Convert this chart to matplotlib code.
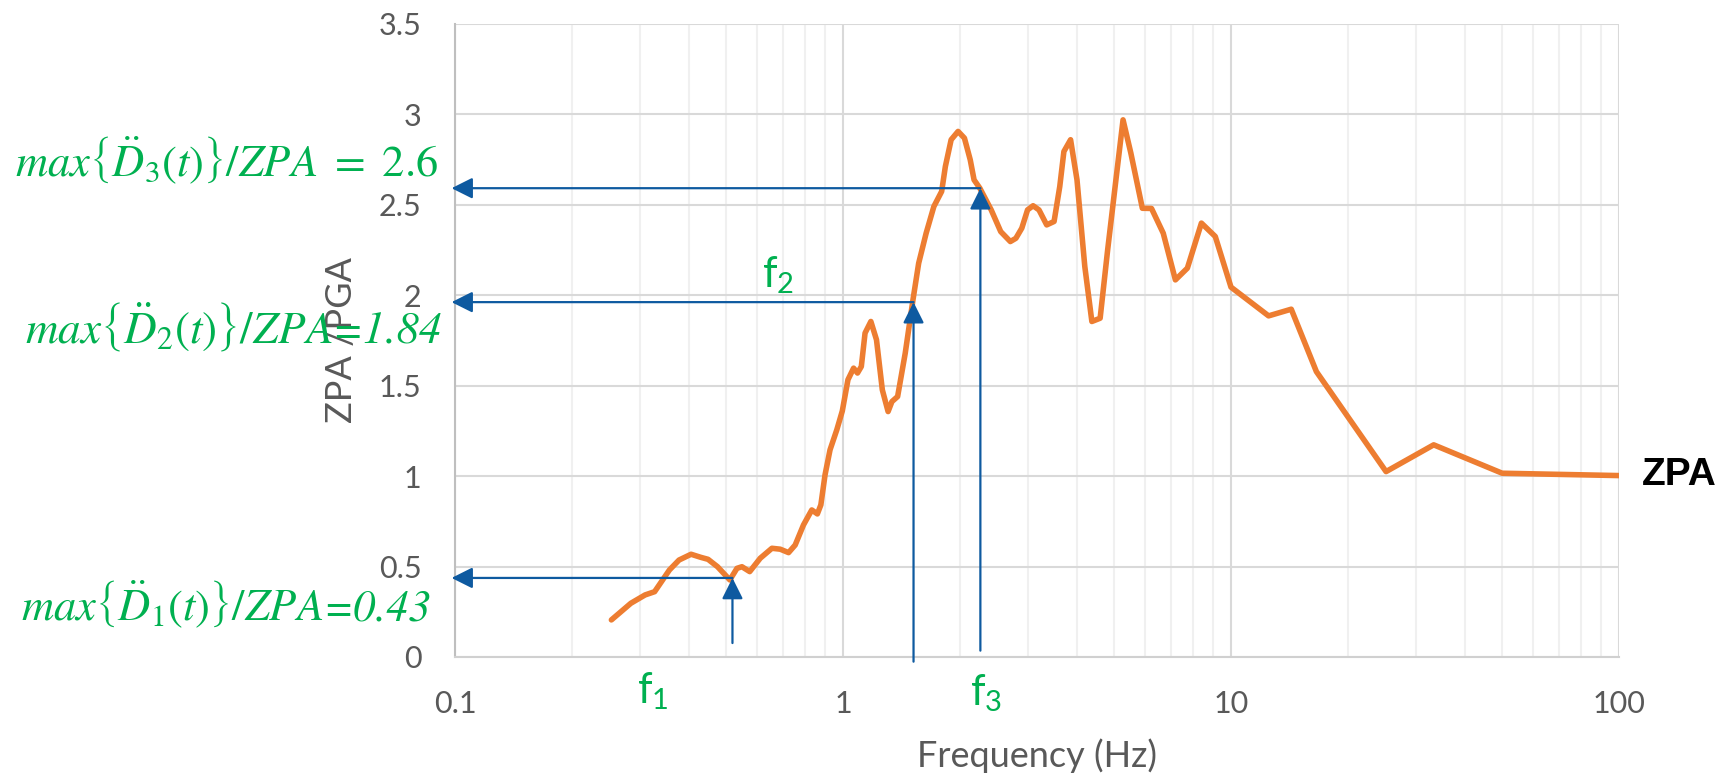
import numpy as np
import matplotlib.pyplot as plt

# response curve
freq=[0.253,0.284,0.309,0.327,0.357,0.378,0.406,0.430,0.449,0.475,0.511,0.533,0.549,0.575,
      0.612,0.656,0.689,0.724,0.753,0.791,0.831,0.859,0.877,0.899,0.926,0.964,0.996,1.03,
      1.065,1.09,1.115,1.14,1.18,1.22,1.263,1.307,1.337,1.383,1.447,1.515,1.567,1.638,
      1.715,1.796,1.836,1.9,1.98,2.056,2.128,2.177,2.253,2.41,2.55,2.70,2.79,2.89,2.99,
      3.09,3.20,3.35,3.50,3.62,3.71,3.86,4.01,4.20,4.38,4.60,4.81,5.04,5.27,5.52,5.91,
      6.24,6.69,7.19,7.72,8.39,9.11,10.0,12.5,14.3,16.6,25.1,33.3,50.0,100]
zpa_ratio=[0.205,0.297,0.343,0.361,0.481,0.536,0.568,0.551,0.540,0.499,0.426,0.49,0.499,0.472,
           0.546,0.601,0.596,0.577,0.619,0.730,0.813,0.791,0.841,1.007,1.145,1.256,1.36,1.533,
           1.597,1.570,1.606,1.791,1.855,1.754,1.477,1.357,1.412,1.440,1.680,1.975,2.177,2.343,
           2.491,2.574,2.712,2.860,2.906,2.869,2.749,2.638,2.592,2.472,2.352,2.297,2.315,2.371,2.472,
           2.495,2.472,2.389,2.408,2.601,2.795,2.860,2.638,2.159,1.855,1.873,2.251,2.620,2.970,2.786,2.481,
           2.48,2.343,2.085,2.15,2.399,2.325,2.045,1.886,1.923,1.578,1.025,1.173,1.016,1.003]

xticks=[0.1,1,10,100]
xtick_labels=['0.1','1','10','100']
yticks=[0,0.5,1,1.5,2,2.5,3,3.5]
ytick_labels=['0','0.5','1','1.5','2','2.5','3','3.5']

# marked frequencies f1,f2,f3 and the ratio read at each
f_marks=[0.519,1.52,2.26]
ratio_marks=[0.437,1.962,2.592]
arrow_from=[0.077,-0.026,0.035]
arrow_tip_x=0.098
mark_texts=[r'$max\left\{\ddot{D}_1(t)\right\}/ZPA$',
            r'$max\left\{\ddot{D}_2(t)\right\}/ZPA$',
            r'$max\left\{\ddot{D}_3(t)\right\}/ZPA\ =\ 2.6$']
mark_values=['=0.43','=1.84','']

plt.rcParams['font.family']=['Lato','DejaVu Sans']
plt.rcParams['mathtext.fontset']='custom'
plt.rcParams['mathtext.rm']='Lato'
plt.rcParams['mathtext.it']='Lato:italic'

green='#00B050'
blue='#0E5AA0'
grey='#595959'

fig=plt.figure(figsize=(17.26,7.81),dpi=100)
ax=fig.add_axes([0.2636,0.1588,0.6744,0.8105])
ax.set_xscale('log')
ax.set_xlim(0.1,100)
ax.set_ylim(0,3.5)
ax.set_xticks(xticks)
ax.set_xticklabels(xtick_labels)
ax.set_yticks(yticks)
ax.set_yticklabels(ytick_labels)
ax.xaxis.set_minor_formatter(plt.NullFormatter())
ax.grid(which='major',color='#D9D9D9',lw=1.5)
ax.grid(which='minor',axis='x',color='#F0F0F0',lw=1.5)
ax.set_axisbelow(True)
ax.tick_params(which='both',length=0,labelsize=22,colors=grey)
ax.tick_params(axis='x',pad=24)
ax.tick_params(axis='y',pad=24)
for s in ['top','right']:
    ax.spines[s].set_visible(False)
ax.spines['left'].set_color('#BFBFBF')
ax.spines['bottom'].set_color('#D0D0D0')
ax.spines['left'].set_linewidth(1.5)
ax.spines['bottom'].set_linewidth(1.5)

ax.plot(freq,zpa_ratio,color='#ED7D31',lw=4.0,solid_joinstyle='round',solid_capstyle='round',zorder=3)

ap=dict(arrowstyle='-|>,head_length=0.4,head_width=0.2',color=blue,lw=1.6,
        mutation_scale=32,shrinkA=0,shrinkB=0)
for i in range(3):
    ax.annotate('',xy=(arrow_tip_x,ratio_marks[i]),xytext=(f_marks[i],ratio_marks[i]),
                arrowprops=ap,annotation_clip=False,zorder=4)
    ax.annotate('',xy=(f_marks[i],ratio_marks[i]),xytext=(f_marks[i],arrow_from[i]),
                arrowprops=ap,annotation_clip=False,zorder=4)

ax.set_xlabel('Frequency (Hz)',fontsize=26,color=grey)
ax.xaxis.set_label_coords(0.5,-0.128)
ax.set_ylabel('ZPA /PGA',fontsize=26,color=grey)
ax.yaxis.set_label_coords(-0.083,0.5)

# left side formula labels, value part set in italic text so digits slant too
fig.canvas.draw()
rend=fig.canvas.get_renderer()
lab_x=[0.2497,0.2561,0.2538]
lab_y=[0.2061,0.5600,0.7738]
lab_size=[32,32.5,32]
for i in range(3):
    w=0
    if mark_values[i]:
        t=fig.text(lab_x[i],lab_y[i],mark_values[i],fontsize=lab_size[i],color=green,
                   family='STIXGeneral',style='italic',ha='right',va='baseline')
        w=t.get_window_extent(renderer=rend).width/fig.bbox.width
    fig.text(lab_x[i]-w,lab_y[i],mark_texts[i],fontsize=lab_size[i],color=green,
             ha='right',va='baseline',math_fontfamily='stix')

fig.text(653/1726,0.0999,r'$\mathrm{f_1}$',fontsize=30,color=green,ha='center',va='baseline',math_fontfamily='custom')
fig.text(778/1726,0.6325,r'$\mathrm{f_2}$',fontsize=30,color=green,ha='center',va='baseline',math_fontfamily='custom')
fig.text(986/1726,0.0973,r'$\mathrm{f_3}$',fontsize=30,color=green,ha='center',va='baseline',math_fontfamily='custom')

fig.text(0.9512,0.379,'ZPA',fontsize=28,fontweight='bold',family='Liberation Sans',color='black',ha='left',va='baseline')

plt.savefig('out.png',dpi=100)
